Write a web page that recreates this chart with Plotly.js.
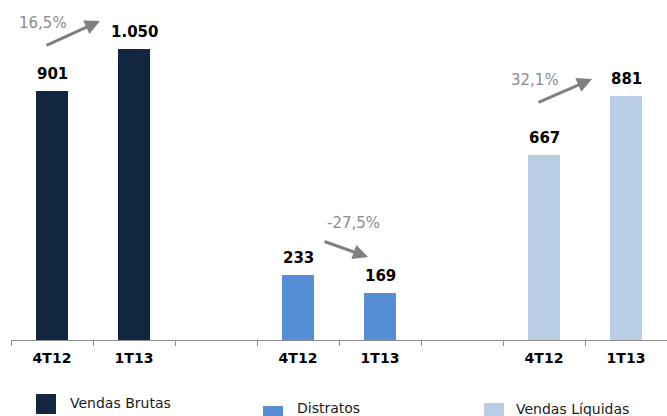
<!DOCTYPE html>
<html>
<head>
<meta charset="utf-8">
<script src="https://cdn.plot.ly/plotly-3.0.1.min.js"></script>
<style>html,body{margin:0;padding:0;background:#fff;}#chart{width:667px;height:416px;}</style>
</head>
<body>
<div id="chart"></div>
<script>
// ---- data ----
const categories = ['4T12', '1T13', '', '4T12', '1T13', '', '4T12', '1T13'];
const seriesNames = ['Vendas Brutas', 'Distratos', 'Vendas Líquidas'];
const vendasBrutas = [901, 1050];
const distratos = [233, 169];
const vendasLiquidas = [667, 881];
const changeLabels = ['16,5%', '-27,5%', '32,1%'];
const seriesColors = ['#12263F', '#558ED5', '#B9CDE5'];

// ---- layout constants ----
const W = 667, H = 416;
const M = {l: 11, r: 0, t: 10, b: 76};
const PW = W - M.l - M.r, PH = H - M.t - M.b;
const px = x => (x - M.l) / PW;          // pixel -> paper x
const py = y => (M.t + PH - y) / PH;      // pixel -> paper y

const allSeries = [vendasBrutas, distratos, vendasLiquidas];
const catIdx = categories.map((c, i) => i);
const boundaries = categories.map((c, i) => i - 0.5).concat([categories.length - 0.5]);

function fmt(v) {
  return String(v).replace(/\B(?=(\d{3})+(?!\d))/g, '.');
}

const traces = allSeries.map((vals, k) => ({
  type: 'bar',
  name: seriesNames[k],
  x: vals.map((v, j) => catIdx[3 * k + j]),
  y: vals,
  width: 0.4,
  marker: {color: seriesColors[k], line: {width: 0}},
  showlegend: false,
  hoverinfo: 'skip'
}));

const annotations = [];
// value labels
allSeries.forEach((vals, k) => {
  vals.forEach((v, j) => {
    annotations.push({
      x: catIdx[3 * k + j], y: v, xref: 'x', yref: 'y',
      text: '<b>' + fmt(v) + '</b>', showarrow: false,
      yanchor: 'middle', yshift: 17,
      font: {family: 'DejaVu Sans', size: 15, color: '#000000'}
    });
  });
});

// change arrows (head, tail in pixels) and labels
const arrowGeom = [
  {head: [100, 21], tail: [45, 46], label: [43, 23]},
  {head: [368, 257], tail: [323, 241], label: [353, 223]},
  {head: [592, 79], tail: [537, 103], label: [535, 80]}
];
arrowGeom.forEach((g, k) => {
  annotations.push({
    x: px(g.head[0]), y: py(g.head[1]), xref: 'paper', yref: 'paper',
    ax: g.tail[0] - g.head[0], ay: g.tail[1] - g.head[1],
    text: '', showarrow: true, arrowhead: 2, arrowsize: 1, arrowwidth: 3,
    arrowcolor: '#808080'
  });
  annotations.push({
    x: px(g.label[0]), y: py(g.label[1]), xref: 'paper', yref: 'paper',
    text: changeLabels[k], showarrow: false, xanchor: 'center', yanchor: 'middle',
    font: {family: 'DejaVu Sans', size: 15, color: '#8C8C8C'}
  });
});

// legend
const legendGeom = [
  {box: [36, 394], text: [68, 403]},
  {box: [263, 406], text: [295, 408]},
  {box: [484, 403], text: [514, 409]}
];
const shapes = [];
legendGeom.forEach((g, k) => {
  shapes.push({
    type: 'rect', xref: 'paper', yref: 'paper',
    x0: px(g.box[0]), x1: px(g.box[0] + 20),
    y0: py(g.box[1] + 20), y1: py(g.box[1]),
    fillcolor: seriesColors[k], line: {width: 0}
  });
  annotations.push({
    x: px(g.text[0]), y: py(g.text[1]), xref: 'paper', yref: 'paper',
    text: seriesNames[k], showarrow: false, xanchor: 'left', yanchor: 'middle',
    font: {family: 'DejaVu Sans', size: 14, color: '#1A1A1A'}
  });
});

const xr = [-0.5, categories.length - 0.5];
const layout = {
  width: W, height: H,
  margin: M,
  paper_bgcolor: '#ffffff', plot_bgcolor: '#ffffff',
  showlegend: false,
  xaxis: {
    range: xr, fixedrange: true,
    tickmode: 'array', tickvals: catIdx, ticktext: categories.map(c => '<b>' + c + '</b>'),
    ticks: '', ticklabelstandoff: 5,
    minor: {tickmode: 'array', tickvals: boundaries, ticks: 'outside', ticklen: 5,
            tickcolor: '#8C8C8C', tickwidth: 1, showgrid: false},
    showgrid: false, zeroline: false,
    showline: true, linecolor: '#8C8C8C', linewidth: 1,
    tickfont: {family: 'DejaVu Sans', size: 14, color: '#000000'}
  },
  yaxis: {
    range: [0, 1192], visible: false, showgrid: false, zeroline: false, fixedrange: true
  },
  bargap: 0,
  annotations: annotations,
  shapes: shapes
};

Plotly.newPlot('chart', traces, layout, {displayModeBar: false, staticPlot: true});
</script>
</body>
</html>
